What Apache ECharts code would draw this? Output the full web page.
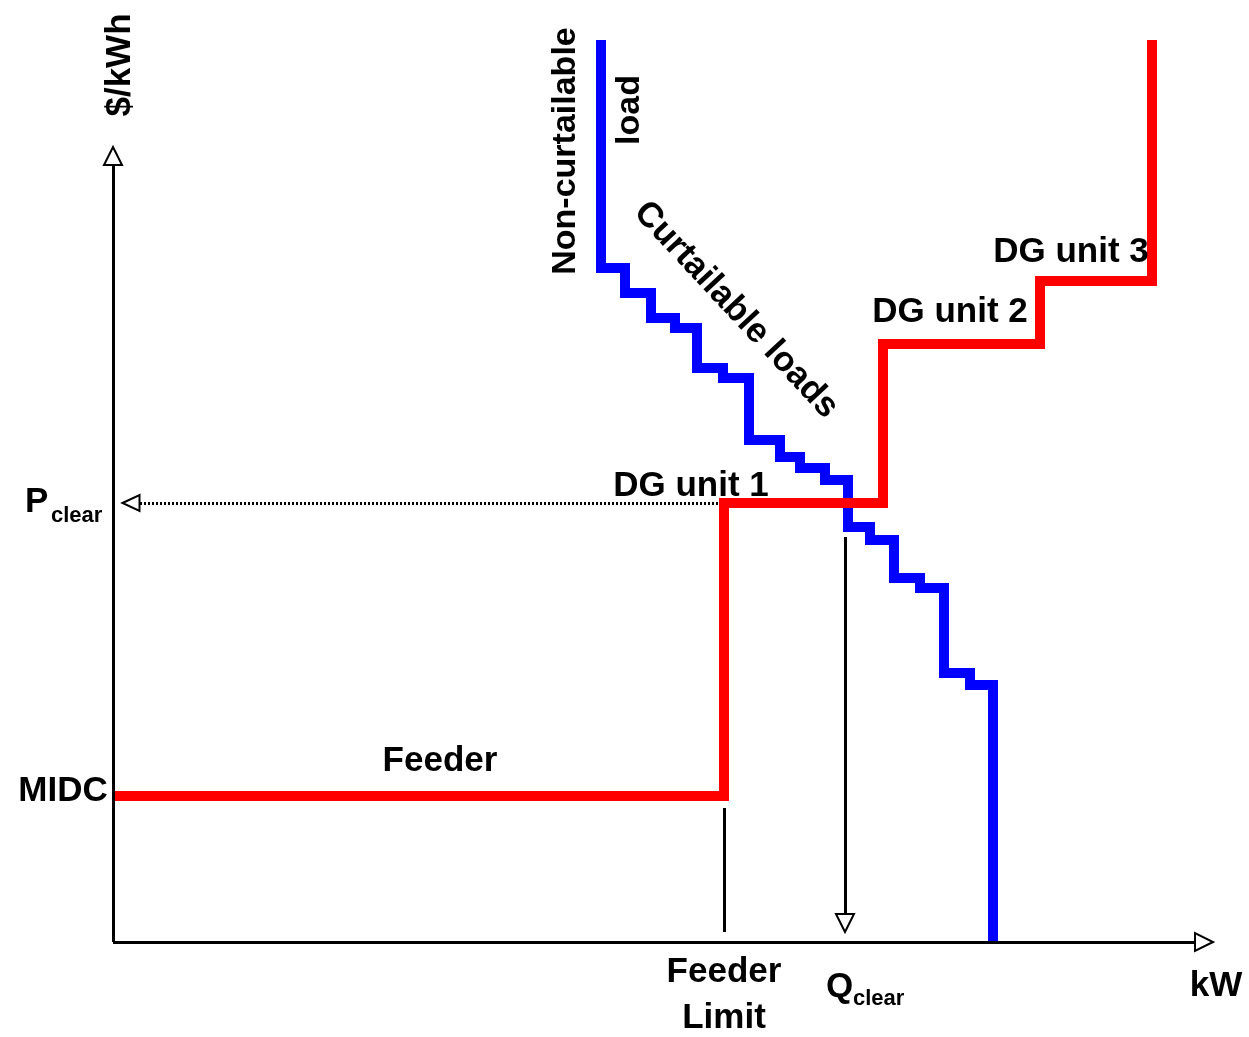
<!DOCTYPE html>
<html><head><meta charset="utf-8">
<script src="https://cdn.jsdelivr.net/npm/echarts@6/dist/echarts.min.js"></script>
<style>html,body{margin:0;padding:0;background:#fff}#c{width:1249px;height:1037px}</style>
</head><body><div id="c"></div>
<script>
// Supply curve (red): feeder + DG units 1..3  [kW, $/kWh] in chart units
const supplyX = [0, 611, 611, 770, 770, 927, 927, 1039, 1039];
const supplyY = [146, 146, 439, 439, 598, 598, 661, 661, 902];
// Demand curve (blue): non-curtailable + curtailable loads
const demandX = [488, 488, 512, 512, 538, 538, 562, 562, 584, 584, 610, 610, 636, 636, 667, 667, 687, 687, 712, 712, 735, 735, 757, 757, 781, 781, 807, 807, 831, 831, 857, 857, 880, 880];
const demandY = [902, 674, 674, 649, 649, 624, 624, 614, 614, 574, 574, 564, 564, 502, 502, 485, 485, 474, 474, 462, 462, 415, 415, 402, 402, 364, 364, 354, 354, 269, 269, 257, 257, 0];
// Key values
const midc = 146;
const pClear = 439;
const qClear = 732;
const feederLimit = 611;
const xAxisEnd = 1100;
const yAxisEnd = 795;
// Text labels
const yTickLabels = ['MIDC', 'P', 'clear'];
const xTickLabels = ['Feeder', 'Limit', 'Q', 'clear'];
const axisNames = ['$/kWh', 'kW'];
const curveLabels = ['Feeder', 'DG unit 1', 'DG unit 2', 'DG unit 3', 'Curtailable loads', 'Non-curtailable', 'load'];

const FONT = '"Liberation Sans", Arial, Helvetica, sans-serif';
function txt(text, x, y, opts) {
  opts = opts || {};
  return {
    type: 'text', x: x, y: y, z: 100,
    rotation: (opts.rot || 0) * Math.PI / 180,
    style: {
      text: text, fill: '#000', fontFamily: FONT, fontWeight: 'bold',
      fontSize: opts.size || 35, align: opts.align || 'center', verticalAlign: 'middle'
    }
  };
}

const chart = echarts.init(document.getElementById('c'), null, {renderer: 'canvas'});
const zip = (xs, ys) => xs.map((x, i) => [x, ys[i]]);
const blk = {color: '#000', type: 'solid', width: 3};
const AH = 18; // arrow head size
const half = AH / 2;

chart.setOption({
  animation: false,
  backgroundColor: '#fff',
  grid: {left: 113, right: 36, top: 30, bottom: 95},
  xAxis: {type: 'value', min: 0, max: 1100, show: false},
  yAxis: {type: 'value', min: 0, max: 912, show: false},
  series: [
    {
      type: 'line', data: [], z: 1, silent: true,
      markLine: {
        silent: true, animation: false,
        label: {show: false},
        symbol: ['none', 'emptyTriangle'], symbolSize: [AH, AH],
        lineStyle: blk,
        emphasis: {disabled: true},
        data: [
          [{coord: [0, 0]}, {coord: [xAxisEnd - half, 0]}],
          [{coord: [0, 0]}, {coord: [0, yAxisEnd - half]}],
          [{coord: [qClear, 405]}, {coord: [qClear, 10 + half]}],
          [{coord: [feederLimit, 134], symbol: 'none'}, {coord: [feederLimit, 10], symbol: 'none'}],
          [{coord: [605, pClear], lineStyle: {color: '#000', type: [2, 2], width: 3}}, {coord: [10 + 8, pClear], symbolSize: [16, 17]}]
        ]
      }
    },
    {
      name: 'Demand', type: 'line', data: zip(demandX, demandY), z: 3,
      showSymbol: false, symbol: 'none', silent: true,
      lineStyle: {color: '#0000ff', width: 10, join: 'miter', cap: 'butt'}
    },
    {
      name: 'Supply', type: 'line', data: zip(supplyX, supplyY), z: 4,
      showSymbol: false, symbol: 'none', silent: true,
      lineStyle: {color: '#ff0000', width: 10, join: 'miter', cap: 'butt'}
    }
  ],
  graphic: [
    txt(axisNames[0], 120, 65, {rot: 90}),
    txt(axisNames[1], 1216, 986),
    txt(yTickLabels[0], 63, 791),
    txt(yTickLabels[1], 25, 502, {align: 'left'}),
    txt(yTickLabels[2], 51, 516, {align: 'left', size: 22}),
    txt(xTickLabels[0], 724, 972),
    txt(xTickLabels[1], 724, 1018),
    txt(xTickLabels[2], 826, 987, {align: 'left'}),
    txt(xTickLabels[3], 853, 999, {align: 'left', size: 22}),
    txt(curveLabels[0], 440, 761),
    txt(curveLabels[1], 691, 486),
    txt(curveLabels[2], 950, 312),
    txt(curveLabels[3], 1071, 252),
    txt(curveLabels[4], 736, 310, {rot: -47}),
    txt(curveLabels[5], 566, 151, {rot: 90, size: 34}),
    txt(curveLabels[6], 630, 110, {rot: 90, size: 34})
  ]
});
</script></body></html>
